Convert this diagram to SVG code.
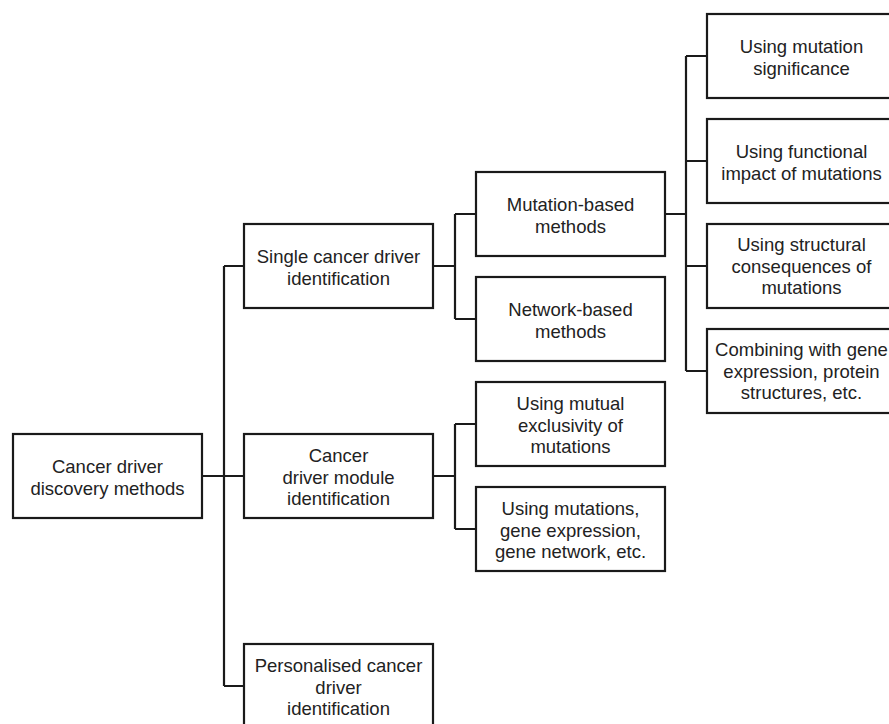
<svg xmlns="http://www.w3.org/2000/svg" width="889" height="724" viewBox="0 0 889 724">
<style>
.box{fill:#fff;stroke:#1a1a1a;stroke-width:2.2}
.t{font-family:"Liberation Sans",Arial,sans-serif;font-size:18.5px;fill:#222;text-anchor:middle}
.c{fill:none;stroke:#1a1a1a;stroke-width:2.2}
</style>
<rect width="889" height="724" fill="#fff"/>
<g id="connectors">
<path class="c" d="M202,476H244M224,266V686M224,266H244M224,686H244"/>
<path class="c" d="M433,266H455M455,214V319M455,214H476M455,319H476"/>
<path class="c" d="M433,476H455M455,424V529M455,424H476M455,529H476"/>
<path class="c" d="M665,214H686M686,56V371M686,56H707M686,161H707M686,266H707M686,371H707"/>
</g>
<g id="root"><rect class="box" x="13" y="434" width="189" height="84"/>
<text class="t" x="107.5" y="473">Cancer driver</text><text class="t" x="107.5" y="494.5">discovery methods</text></g>
<g id="single"><rect class="box" x="244" y="224" width="189" height="84"/>
<text class="t" x="338.5" y="263">Single cancer driver</text><text class="t" x="338.5" y="284.5">identification</text></g>
<g id="module"><rect class="box" x="244" y="434" width="189" height="84"/>
<text class="t" x="338.5" y="462">Cancer</text><text class="t" x="338.5" y="483.5">driver module</text><text class="t" x="338.5" y="505">identification</text></g>
<g id="personalised"><rect class="box" x="244" y="644" width="189" height="84"/>
<text class="t" x="338.5" y="672">Personalised cancer</text><text class="t" x="338.5" y="693.5">driver</text><text class="t" x="338.5" y="715">identification</text></g>
<g id="mutation"><rect class="box" x="476" y="172" width="189" height="84"/>
<text class="t" x="570.5" y="211">Mutation-based</text><text class="t" x="570.5" y="232.5">methods</text></g>
<g id="network"><rect class="box" x="476" y="277" width="189" height="84"/>
<text class="t" x="570.5" y="316">Network-based</text><text class="t" x="570.5" y="337.5">methods</text></g>
<g id="mutual"><rect class="box" x="476" y="382" width="189" height="84"/>
<text class="t" x="570.5" y="410">Using mutual</text><text class="t" x="570.5" y="431.5">exclusivity of</text><text class="t" x="570.5" y="453">mutations</text></g>
<g id="mutations"><rect class="box" x="476" y="487" width="189" height="84"/>
<text class="t" x="570.5" y="515">Using mutations,</text><text class="t" x="570.5" y="536.5">gene expression,</text><text class="t" x="570.5" y="558">gene network, etc.</text></g>
<g id="significance"><rect class="box" x="707" y="14" width="189" height="84"/>
<text class="t" x="801.5" y="53">Using mutation</text><text class="t" x="801.5" y="74.5">significance</text></g>
<g id="functional"><rect class="box" x="707" y="119" width="189" height="84"/>
<text class="t" x="801.5" y="158">Using functional</text><text class="t" x="801.5" y="179.5">impact of mutations</text></g>
<g id="structural"><rect class="box" x="707" y="224" width="189" height="84"/>
<text class="t" x="801.5" y="251">Using structural</text><text class="t" x="801.5" y="272.5">consequences of</text><text class="t" x="801.5" y="294">mutations</text></g>
<g id="combining"><rect class="box" x="707" y="329" width="189" height="84"/>
<text class="t" x="801.5" y="356">Combining with gene</text><text class="t" x="801.5" y="377.5">expression, protein</text><text class="t" x="801.5" y="399">structures, etc.</text></g>
</svg>
